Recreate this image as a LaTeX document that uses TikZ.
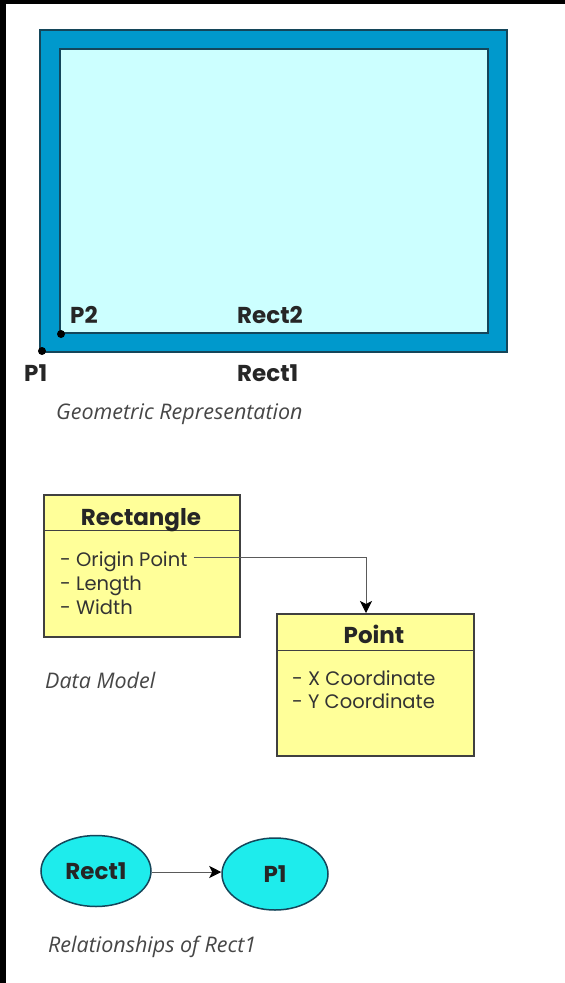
\documentclass[tikz,border=0pt]{standalone}
\usepackage{fontspec}
\setmainfont{Poppins}
\newfontfamily\capfont{Open Sans}
\usetikzlibrary{shapes.geometric,arrows.meta}
\definecolor{outerblue}{RGB}{0,153,204}
\definecolor{innercyan}{RGB}{204,255,255}
\definecolor{edgeteal}{RGB}{20,70,90}
\definecolor{classyellow}{RGB}{255,255,153}
\definecolor{ellcyan}{RGB}{30,236,236}
\definecolor{captiongray}{RGB}{70,70,70}
\definecolor{linegray}{RGB}{90,90,90}
\tikzset{
  lab/.style={font=\fontsize{23}{25}\selectfont\bfseries, text=black!85, inner sep=0pt},
  item/.style={font=\fontsize{19.5}{22}\selectfont, text=black!80, inner sep=0pt, anchor=base west},
  caption/.style={font=\capfont\itshape\fontsize{21.5}{24}\selectfont, text=captiongray, inner sep=0pt, anchor=base west},
  classbox/.style={draw=black!75, line width=1.5pt, fill=classyellow, anchor=north west, inner sep=0pt},
  relnode/.style={ellipse, draw=edgeteal, line width=1.5pt, fill=ellcyan, inner sep=0pt},
  conn/.style={draw=linegray, line width=1pt},
  tip/.style={-{Stealth[length=12pt,width=12pt,inset=3pt,color=black]}},
  dot/.style={circle, fill=black, inner sep=0pt, minimum size=8pt}
}
\begin{document}
\begin{tikzpicture}[x=1pt,y=-1pt]
\useasboundingbox (0,0) rectangle (565,983);
\fill[white] (0,0) rectangle (565,983);
\fill[black] (0,0) rectangle (565,4);
\fill[black] (0,0) rectangle (6,983);
% geometric representation
\draw[draw=edgeteal, line width=1.5pt, fill=outerblue] (40,30) rectangle (507,352);
\draw[draw=edgeteal, line width=1.5pt, fill=innercyan] (60,49) rectangle (488,333);
\node[dot] (p1dot) at (42,351) {};
\node[dot] (p2dot) at (61,334) {};
\node[lab, anchor=base west] (p2) at (70,323) {P2};
\node[lab, anchor=base west] (rect2) at (237,323) {Rect2};
\node[lab, anchor=base west] (p1) at (24,381) {P1};
\node[lab, anchor=base west] (rect1) at (237,381) {Rect1};
\node[caption] (cap1) at (56,419) {Geometric Representation};
% data model
\node[classbox, minimum width=196pt, minimum height=142pt] (rectbox) at (43,494) {};
\draw[draw=black!75, line width=1pt] ([yshift=-36pt]rectbox.north west) -- ([yshift=-36pt]rectbox.north east);
\node[lab, anchor=base] (rectitle) at (141,525) {Rectangle};
\node[item] (orig) at (60,566) {- Origin Point};
\node[item] (len) at (60,590) {- Length};
\node[item] (wid) at (60,614) {- Width};
\node[classbox, minimum width=197pt, minimum height=142pt] (ptbox) at (276,613) {};
\draw[draw=black!75, line width=1pt] ([yshift=-37pt]ptbox.north west) -- ([yshift=-37pt]ptbox.north east);
\node[lab, anchor=base] (pttitle) at (374,643) {Point};
\node[item] (xc) at (292,685) {- X Coordinate};
\node[item] (yc) at (292,708) {- Y Coordinate};
\coordinate (bend) at (366,557);
\draw[conn, tip] ([xshift=6pt]orig.east |- bend) -- (bend) -- (bend |- ptbox.north);
\node[caption] (cap2) at (45,688) {Data Model};
% relationships
\node[relnode, minimum width=110pt, minimum height=71pt] (erect) at (96,871) {};
\node[lab] at (erect) {Rect1};
\node[relnode, minimum width=106pt, minimum height=72pt] (ep1) at (275,874) {};
\node[lab] at (ep1) {P1};
\draw[conn, tip] (erect.east |- 0,872) -- (ep1.west |- 0,872);
\node[caption] (cap3) at (48,952) {Relationships of Rect1};
\end{tikzpicture}
\end{document}
